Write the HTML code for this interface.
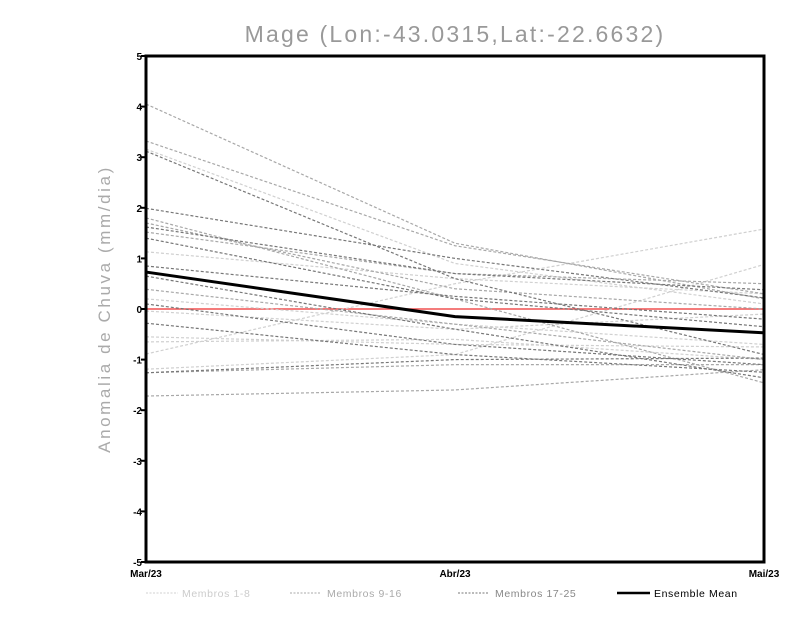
<!DOCTYPE html>
<html><head><meta charset="utf-8"><style>
body{margin:0;background:#fff;}
svg text{font-family:"Liberation Sans",sans-serif;}
</style></head><body>
<svg width="800" height="618" viewBox="0 0 800 618">
<text x="455" y="42" text-anchor="middle" font-size="23" fill="#999" letter-spacing="2.2" font-weight="300">Mage (Lon:-43.0315,Lat:-22.6632)</text>
<text transform="translate(110,309) rotate(-90)" text-anchor="middle" font-size="17" fill="#aaa" letter-spacing="2.6">Anomalia de Chuva (mm/dia)</text>
<g id="plot"></g>
<rect x="146" y="56" width="618" height="506" fill="none" stroke="#000" stroke-width="3"/>
<g id="legend" font-size="10.5" letter-spacing="0.6">
<line x1="146" y1="593" x2="178" y2="593" stroke="#d0d0d0" stroke-dasharray="2,1.5"/>
<text x="182" y="597" fill="#ccc">Membros 1-8</text>
<line x1="290" y1="593" x2="320" y2="593" stroke="#a8a8a8" stroke-dasharray="2,1.5"/>
<text x="327" y="597" fill="#aaa">Membros 9-16</text>
<line x1="458" y1="593" x2="488" y2="593" stroke="#777" stroke-dasharray="2,1.5"/>
<text x="495" y="597" fill="#888">Membros 17-25</text>
<line x1="617" y1="593" x2="650" y2="593" stroke="#000" stroke-width="2.5"/>
<text x="654" y="597" fill="#000">Ensemble Mean</text>
</g>
</svg>
<script>
const categories=["Mar/23","Abr/23","Mai/23"];
const yTicks=[-5,-4,-3,-2,-1,0,1,2,3,4,5];
const group1=[[3.16,0.9,0.1],[1.13,0.6,0.3],[0.2,-0.3,-0.7],[-0.55,-0.7,-0.75],[-0.65,-0.6,-1.0],[-0.89,0.5,1.58],[-1.19,-0.9,0.88],[-0.04,-0.4,-0.1]];
const group2=[[4.05,1.3,0.2],[3.32,1.25,0.3],[1.7,0.4,0.0],[1.52,0.7,0.5],[-1.26,-1.1,-1.1],[-1.72,-1.6,-1.2],[0.39,-0.3,-1.0],[1.8,0.2,-1.46]];
const group3=[[3.12,0.6,-0.9],[1.99,1.0,0.22],[1.62,0.7,0.38],[1.4,0.2,-0.35],[0.85,0.25,-0.2],[0.65,-0.4,-1.36],[-0.28,-0.9,-1.25],[-1.26,-1.0,-0.97],[0.1,-0.7,-1.1]];
const meanValues=[0.73,-0.15,-0.47];
const NS="http://www.w3.org/2000/svg";
const X0=146,X1=764,Y0=562,Y1=56;
function xs(i){return X0+(X1-X0)*i/(categories.length-1);}
function ys(v){return Y0-(v+5)/10*(Y0-Y1);}
const plot=document.getElementById('plot');
function mk(tag,attrs){const e=document.createElementNS(NS,tag);for(const k in attrs)e.setAttribute(k,attrs[k]);plot.appendChild(e);return e;}
yTicks.forEach(t=>{
 const l=mk('line',{x1:X0-5,x2:X0,y1:ys(t),y2:ys(t),stroke:'#000','stroke-width':2});
 
 
 const tx=mk('text',{x:X0-4,y:ys(t)+4,'text-anchor':'end','font-size':10,'font-weight':'bold',fill:'#000'});
 tx.textContent=t;
 
 
});
categories.forEach((c,i)=>{
 const tx=mk('text',{x:xs(i),y:577,'text-anchor':'middle','font-size':10,'font-weight':'bold',fill:'#000'});
 tx.textContent=c;
 
 
});
const z=mk('line',{x1:X0,x2:X1,y1:ys(0),y2:ys(0),stroke:'#f05050','stroke-width':1.5});


function series(arr,color,name){
 arr.forEach(v=>{
  const p=mk('polyline',{points:v.map((d,i)=>xs(i)+','+ys(d)).join(' '),fill:'none',stroke:color,'stroke-width':1.2,'stroke-dasharray':'3,2'});
  
  
 });
}
series(group1,'#d0d0d0','member-line-1-8');
series(group2,'#a8a8a8','member-line-9-16');
series(group3,'#777','member-line-17-25');
const m=mk('polyline',{points:meanValues.map((d,i)=>xs(i)+','+ys(d)).join(' '),fill:'none',stroke:'#000','stroke-width':3});


</script>
</body></html>
